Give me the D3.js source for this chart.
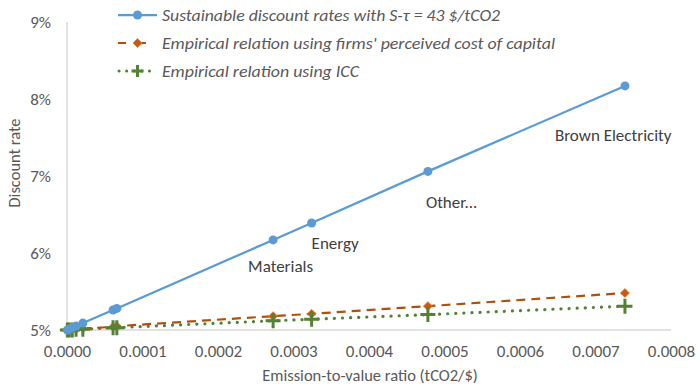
<!DOCTYPE html>
<html><head><meta charset="utf-8">
<script src="https://cdn.jsdelivr.net/npm/d3@7"></script>
<style>
html,body{margin:0;padding:0;background:#fff;}
svg{display:block;font-family:Carlito,"Open Sans","Liberation Sans",sans-serif;}
</style></head>
<body><svg id="c" width="700" height="386"></svg>
<script>
// ---- data ----
const emissionRatio = [0.0000005, 0.000003, 0.000007, 0.000012, 0.000021, 0.000061, 0.000066, 0.000273, 0.000324, 0.000478, 0.000739];
const sustainableRate = [5.00, 5.01, 5.03, 5.05, 5.09, 5.26, 5.28, 6.17, 6.39, 7.06, 8.17];
const perceivedCostRate = [5.00, 5.00, 5.01, 5.01, 5.02, 5.04, 5.05, 5.18, 5.21, 5.31, 5.48];
const iccRate = [5.00, 5.00, 5.00, 5.01, 5.01, 5.03, 5.03, 5.12, 5.14, 5.20, 5.31];
const pointLabels = ["", "", "", "", "", "", "", "Materials", "Energy", "Other...", "Brown Electricity"];
const xTicks = [0, 0.0001, 0.0002, 0.0003, 0.0004, 0.0005, 0.0006, 0.0007, 0.0008];
const yTicks = [5, 6, 7, 8, 9];
const seriesNames = ["Sustainable discount rates with S-\u03c4 = 43 $/tCO2",
  "Empirical relation using firms' perceived cost of capital",
  "Empirical relation using ICC"];

// ---- layout ----
const svg = d3.select("#c");
const x = d3.scaleLinear().domain([0, 0.0008]).range([67, 671]);
const y = d3.scaleLinear().domain([5, 9]).range([330, 22]);
const grey = "#595959", axisCol = "#d9d9d9";
const blue = "#5B9BD5", brown = "#B0500F", green = "#548235";
const ff = "Carlito,'Open Sans','Liberation Sans',sans-serif";

// axes lines
svg.append("line").attr("x1", x(0)).attr("x2", x(0)).attr("y1", y(9)).attr("y2", y(5))
  .attr("stroke", axisCol).attr("stroke-width", 1.5);
svg.append("line").attr("x1", x(0)).attr("x2", x(0.0008)).attr("y1", y(5)).attr("y2", y(5))
  .attr("stroke", axisCol).attr("stroke-width", 1.5);

// axes via d3
const xAxis = svg.append("g").attr("transform", `translate(0,${y(5)})`)
  .call(d3.axisBottom(x).tickValues(xTicks).tickFormat(d3.format(".4f")).tickSize(0).tickPadding(15));
const yAxis = svg.append("g").attr("transform", `translate(${x(0)},0)`)
  .call(d3.axisLeft(y).tickValues(yTicks).tickFormat(d => d + "%").tickSize(0).tickPadding(16));
[xAxis, yAxis].forEach(g => {
  g.select(".domain").remove();
  g.selectAll("text").attr("fill", grey).style("font-size", "17px").style("font-family", ff);
});

// axis titles
svg.append("text").attr("x", 370).attr("y", 381).attr("text-anchor", "middle")
  .attr("fill", grey).style("font-size", "16.5px").text("Emission-to-value ratio (tCO2/$)");
svg.append("text").attr("transform", "translate(20,163) rotate(-90)").attr("text-anchor", "middle")
  .attr("fill", grey).style("font-size", "16.5px").text("Discount rate");

const idx = d3.range(emissionRatio.length);
const line = vals => d3.line().x(i => x(emissionRatio[i])).y(i => y(vals[i]))(idx);

// green ICC
svg.append("path").attr("d", line(iccRate)).attr("fill", "none").attr("stroke", green)
  .attr("stroke-width", 3.2).attr("stroke-dasharray", "0.1 8").attr("stroke-linecap", "round");
// brown perceived
svg.append("path").attr("d", line(perceivedCostRate)).attr("fill", "none").attr("stroke", brown)
  .attr("stroke-width", 2.2).attr("stroke-dasharray", "9 6");
// blue
svg.append("path").attr("d", line(sustainableRate)).attr("fill", "none").attr("stroke", blue)
  .attr("stroke-width", 2.25);

// markers
const plus = (g, cx, cy, s) => {
  g.append("path").attr("d", `M${cx - s},${cy}H${cx + s}M${cx},${cy - s}V${cy + s}`)
    .attr("stroke", green).attr("stroke-width", 3).attr("fill", "none");
};
const diamond = (g, cx, cy, s) => {
  g.append("path").attr("d", `M${cx},${cy - s}L${cx + s},${cy}L${cx},${cy + s}L${cx - s},${cy}Z`)
    .attr("fill", "#C55A11").attr("stroke", "#ED7D31").attr("stroke-width", 0.8);
};
const mk = svg.append("g");
idx.forEach(i => diamond(mk, x(emissionRatio[i]), y(perceivedCostRate[i]), 4.5));
idx.forEach(i => plus(mk, x(emissionRatio[i]), y(iccRate[i]), 7.5));
idx.forEach(i => mk.append("circle").attr("cx", x(emissionRatio[i])).attr("cy", y(sustainableRate[i]))
  .attr("r", 4.5).attr("fill", blue));

// data labels (placement offsets)
const labelOffsets = {"Materials": [-25, 32], "Energy": [0, 26], "Other...": [-2, 37], "Brown Electricity": [-70, 55]};
idx.filter(i => pointLabels[i]).forEach(i => {
  const o = labelOffsets[pointLabels[i]];
  svg.append("text").attr("x", x(emissionRatio[i]) + o[0]).attr("y", y(sustainableRate[i]) + o[1])
    .attr("fill", "#404040").style("font-size", "17px").text(pointLabels[i]);
});

// legend
const lg = svg.append("g");
const rows = [15, 43, 71];
const lx1 = 118, lx2 = 157, lmid = 137.5;
lg.append("line").attr("x1", lx1).attr("x2", lx2).attr("y1", rows[0]).attr("y2", rows[0]).attr("stroke", blue).attr("stroke-width", 2.25);
lg.append("circle").attr("cx", lmid).attr("cy", rows[0]).attr("r", 4.5).attr("fill", blue);
lg.append("line").attr("x1", lx1).attr("x2", lx2).attr("y1", rows[1]).attr("y2", rows[1]).attr("stroke", brown).attr("stroke-width", 2.2).attr("stroke-dasharray", "8 12");
diamond(lg, lmid, rows[1], 4.5);
lg.append("line").attr("x1", lx1 + 1).attr("x2", lx2).attr("y1", rows[2]).attr("y2", rows[2]).attr("stroke", green).attr("stroke-width", 3).attr("stroke-dasharray", "0.1 7.5").attr("stroke-linecap", "round");
plus(lg, lmid, rows[2], 6);
const lw = [338, 393, 197];
seriesNames.forEach((n, i) => {
  lg.append("text").attr("x", 162).attr("y", rows[i] + 6).attr("fill", grey)
    .style("font-size", "17px").style("font-style", "italic")
    .attr("textLength", lw[i]).attr("lengthAdjust", "spacingAndGlyphs").text(n);
});
</script></body></html>
